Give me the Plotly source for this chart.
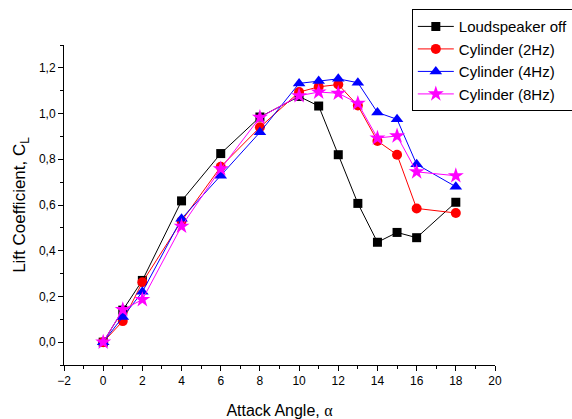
import plotly.graph_objects as go

# Attack angles (degrees)
angle = [0, 1, 2, 4, 6, 8, 10, 11, 12, 13, 14, 15, 16, 18]

# Lift coefficient for each configuration
cl_off = [0.0, 0.14, 0.27, 0.618, 0.825, 0.985, 1.075, 1.033, 0.82, 0.607, 0.437, 0.48, 0.457, 0.612]
cl_2hz = [0.0, 0.092, 0.262, 0.53, 0.767, 0.94, 1.094, 1.117, 1.127, 1.035, 0.88, 0.82, 0.585, 0.565]
cl_4hz = [0.0, 0.11, 0.22, 0.54, 0.728, 0.918, 1.132, 1.142, 1.152, 1.135, 1.005, 0.975, 0.778, 0.68]
cl_8hz = [0.0, 0.142, 0.186, 0.507, 0.758, 0.983, 1.078, 1.094, 1.089, 1.045, 0.893, 0.902, 0.745, 0.728]

series = [
    ("Loudspeaker off", cl_off, "black", "square", 9),
    ("Cylinder (2Hz)", cl_2hz, "red", "circle", 10),
    ("Cylinder (4Hz)", cl_4hz, "blue", "triangle-up", 11),
    ("Cylinder (8Hz)", cl_8hz, "magenta", "star", 12),
]

fig = go.Figure()
for name, vals, color, symbol, size in series:
    fig.add_trace(go.Scatter(
        x=angle, y=vals, name=name, mode="lines+markers",
        line=dict(color=color, width=1),
        marker=dict(symbol=symbol, size=size, color=color, line=dict(width=0)),
    ))

font = "Arial, Liberation Sans, sans-serif"
axis_common = dict(
    showline=True, linecolor="black", linewidth=1,
    ticks="outside", ticklen=5, tickcolor="black", tickwidth=1,
    showgrid=False, zeroline=False, mirror=False, automargin=False,
    tickfont=dict(family=font, size=12, color="black"),
)

fig.update_layout(
    width=572, height=419,
    margin=dict(l=64, r=77, t=45, b=54, autoexpand=False),
    plot_bgcolor="white", paper_bgcolor="white",
    separators=",.",
    font=dict(family=font, color="black"),
    xaxis=dict(
        range=[-2, 20], dtick=2, tick0=0,
        minor=dict(dtick=1, ticks="outside", ticklen=3, tickcolor="black"),
        title=dict(text="Attack Angle, <span style='font-family:Liberation Serif, Times New Roman, serif'>α</span>",
                   font=dict(size=16), standoff=17),
        **axis_common,
    ),
    yaxis=dict(
        range=[-0.1, 1.3], dtick=0.2, tick0=0, tickformat=".1f",
        minor=dict(dtick=0.1, ticks="outside", ticklen=3, tickcolor="black"),
        title=dict(text="Lift Coefficient, C<sub>L</sub>", font=dict(size=17), standoff=8),
        **axis_common,
    ),
    legend=dict(
        x=0.807, y=1.112, xanchor="left", yanchor="top",
        bordercolor="black", borderwidth=1, bgcolor="white",
        font=dict(family=font, size=15, color="black"),
        tracegroupgap=0, itemwidth=36,
    ),
)

fig.write_html("out.html")
